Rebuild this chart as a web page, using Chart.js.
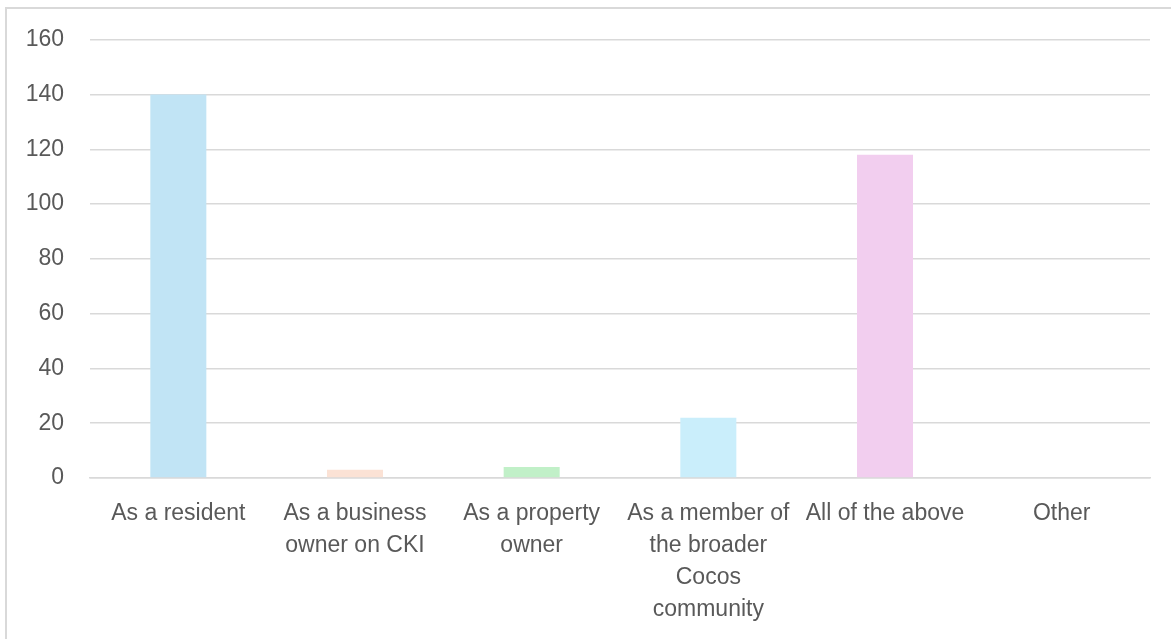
<!DOCTYPE html>
<html>
<head>
<meta charset="utf-8">
<script src="https://cdn.jsdelivr.net/npm/chart.js@4/dist/chart.umd.min.js"></script>
<style>
  html, body { margin: 0; padding: 0; background: #ffffff; }
  #frame {
    position: absolute; left: 5px; top: 7px; width: 1166px; height: 632px;
    border-left: 2px solid #D9D9D9; border-top: 2px solid #D9D9D9;
    box-sizing: border-box;
  }
  #wrap { position: absolute; left: 0; top: 0; width: 1171px; height: 639px; }
</style>
</head>
<body>
<div id="frame"></div>
<div id="wrap"><canvas id="c" width="1171" height="639"></canvas></div>
<script>
// Ways respondents are connected to the islands
const categories = [
  ["As a resident"],
  ["As a business", "owner on CKI"],
  ["As a property", "owner"],
  ["As a member of", "the broader", "Cocos", "community"],
  ["All of the above"],
  ["Other"]
];
const responses = [140, 3, 4, 22, 118, 0];
const barColors = ["#C1E4F5", "#FBE2D5", "#C1F0C8", "#CAEEFB", "#F2CEEF", "#D9D9D9"];
const yTicks = { min: 0, max: 160, step: 20 };

const textColor = "#595959";
const gridColor = "#D9D9D9";
const fontFamily = "'Liberation Sans', Arial, sans-serif";

new Chart(document.getElementById("c"), {
  type: "bar",
  data: {
    labels: categories,
    datasets: [{
      data: responses,
      backgroundColor: barColors,
      borderWidth: 0,
      categoryPercentage: 1,
      barPercentage: 0.317
    }]
  },
  options: {
    responsive: false,
    animation: false,
    layout: { padding: { top: 39, right: 21, left: 0, bottom: 0 } },
    plugins: { legend: { display: false }, tooltip: { enabled: false } },
    scales: {
      x: {
        grid: { display: false, drawTicks: false },
        border: { display: true, color: gridColor, width: 1.5 },
        ticks: {
          color: textColor,
          font: { family: fontFamily, size: 23, lineHeight: 32 / 23 },
          padding: 20,
          maxRotation: 0,
          autoSkip: false
        },
        afterFit(scale) { scale.height = 161; }
      },
      y: {
        min: yTicks.min,
        max: yTicks.max,
        grid: { color: gridColor, lineWidth: 1.5, drawTicks: false },
        border: { display: false },
        ticks: {
          stepSize: yTicks.step,
          color: textColor,
          font: { family: fontFamily, size: 23 },
          padding: 26
        },
        afterFit(scale) { scale.width = 90; }
      }
    }
  }
});
</script>
</body>
</html>
